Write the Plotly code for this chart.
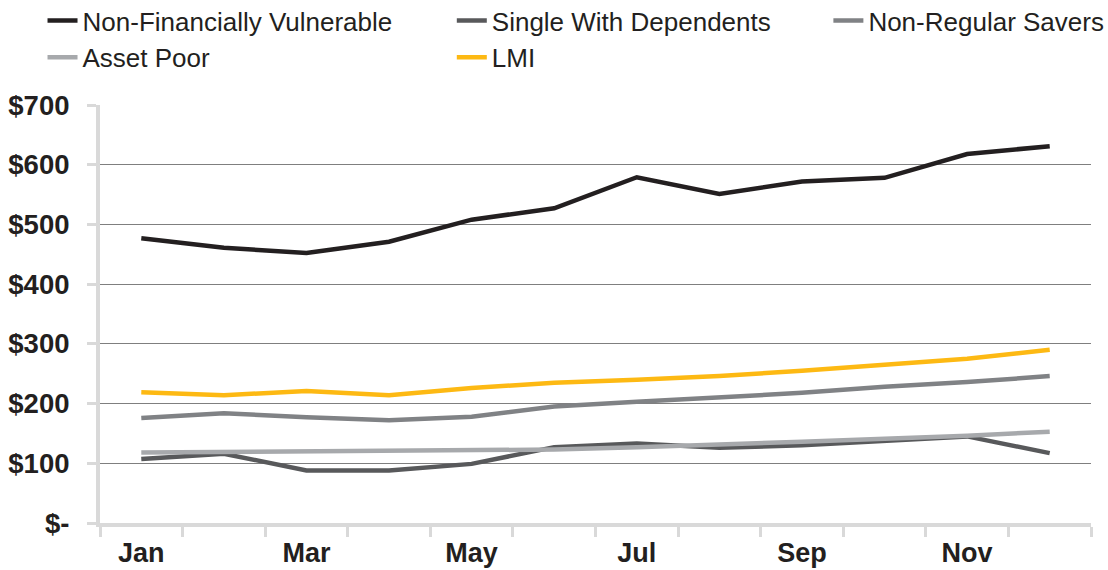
import plotly.graph_objects as go

# Monthly values by segment
months = ["Jan", "Feb", "Mar", "Apr", "May", "Jun",
          "Jul", "Aug", "Sep", "Oct", "Nov", "Dec"]
non_financially_vulnerable = [477, 461, 452, 471, 508, 527, 579, 551, 572, 578, 618, 631]
single_with_dependents = [107, 116, 88, 88, 99, 127, 133, 126, 130, 137, 145, 117]
non_regular_savers = [176, 184, 177, 172, 178, 195, 203, 210, 218, 228, 236, 246]
asset_poor = [118, 119, 119, 120, 121, 123, 127, 131, 136, 141, 146, 153]
lmi = [219, 214, 221, 214, 226, 235, 240, 246, 255, 265, 275, 290]

y_tick_values = [0, 100, 200, 300, 400, 500, 600, 700]
y_tick_labels = ["$-", "$100", "$200", "$300", "$400", "$500", "$600", "$700"]

x_pos = list(range(len(months)))
label_pos = x_pos[::2]
label_text = months[::2]

# name, values, colour, legend column
series = [
    ("Non-Financially Vulnerable", non_financially_vulnerable, "#231f20", "legend"),
    ("Single With Dependents", single_with_dependents, "#58595b", "legend2"),
    ("Non-Regular Savers", non_regular_savers, "#808285", "legend3"),
    ("Asset Poor", asset_poor, "#a7a9ac", "legend"),
    ("LMI", lmi, "#fdb913", "legend2"),
]

fig = go.Figure()
for name, values, color, leg in series:
    fig.add_trace(go.Scatter(
        x=x_pos, y=values, name=name, mode="lines",
        line=dict(color=color, width=4.5),
        legend=leg,
    ))

axis_grey = "#d9d9d9"
text_color = "#231f20"
base_font = "Liberation Sans, Arial, sans-serif"

legend_common = dict(
    orientation="v", y=1.258, xanchor="left", yanchor="top",
    bgcolor="rgba(0,0,0,0)", borderwidth=0, traceorder="normal",
    tracegroupgap=0,
    font=dict(family=base_font, size=26, color=text_color),
)

fig.update_layout(
    width=1108, height=570,
    margin=dict(l=100, r=17, t=105, b=47, autoexpand=False),
    paper_bgcolor="white", plot_bgcolor="white",
    font=dict(family=base_font, color=text_color),
    legend=dict(x=-0.058, **legend_common),
    legend2=dict(x=0.355, **legend_common),
    legend3=dict(x=0.735, **legend_common),
    xaxis=dict(
        range=[-0.5, len(months) - 0.5],
        tickmode="array", tickvals=label_pos, ticktext=label_text,
        ticks="", showgrid=False, zeroline=False,
        showline=True, linecolor=axis_grey, linewidth=4,
        tickfont=dict(family=base_font, size=27, color=text_color, weight="bold"),
        minor=dict(tick0=-0.5, dtick=1, ticks="outside", ticklen=10,
                   tickwidth=3, tickcolor=axis_grey, showgrid=False),
        ticklabelstandoff=3,
        automargin=False,
    ),
    yaxis=dict(
        range=[0, 700],
        tickmode="array", tickvals=y_tick_values, ticktext=y_tick_labels,
        ticks="outside", ticklen=9, tickwidth=3, tickcolor=axis_grey,
        showgrid=True, gridcolor="#7f7f7f", gridwidth=1.3,
        zeroline=False,
        showline=True, linecolor=axis_grey, linewidth=4,
        tickfont=dict(family=base_font, size=27.5, color=text_color, weight="bold"),
        ticklabelstandoff=12,
        automargin=False,
    ),
)

fig.write_html("out.html")
